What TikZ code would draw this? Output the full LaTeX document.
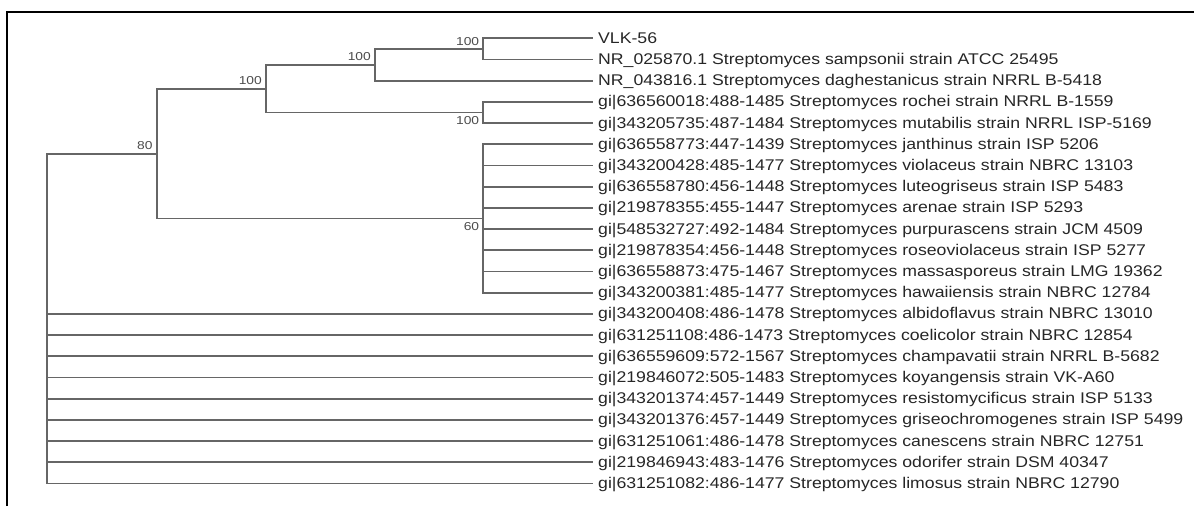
\documentclass[tikz,border=0pt]{standalone}
\usepackage{fontspec}
\newfontfamily\leaffont[FakeStretch=1.14]{Liberation Sans}
\newfontfamily\bootfont[FakeStretch=1.2]{Liberation Sans}
\usetikzlibrary{positioning}
\begin{document}
\begin{tikzpicture}[x=1pt, y=-1pt, font=\leaffont\fontsize{15.5}{16}\selectfont]
        \tikzset{leaf/.style={anchor=west, inner xsep=5pt, inner ysep=0pt, text height=10pt, text depth=0pt, text=black!85},
                 branch/.style={draw=black!60, line width=1.9pt},
                 boot/.style={font=\bootfont\fontsize{11.5}{12}\selectfont, text=black!70, inner xsep=4pt, inner ysep=3.5pt}}
        \useasboundingbox (0,0) rectangle (1194,506);
        \draw[line width=2.2pt] (7,506) -- (7,12) -- (1194,12);
        % leaves
        \node[leaf] (vlk) at (593,38.3) {VLK-56};
        \node[leaf] (sampsonii) at (593,59.5) {NR\_025870.1 Streptomyces sampsonii strain ATCC 25495};
        \node[leaf] (daghest) at (593,80.7) {NR\_043816.1 Streptomyces daghestanicus strain NRRL B-5418};
        \node[leaf] (rochei) at (593,101.9) {gi|636560018:488-1485 Streptomyces rochei strain NRRL B-1559};
        \node[leaf] (mutabilis) at (593,123.1) {gi|343205735:487-1484 Streptomyces mutabilis strain NRRL ISP-5169};
        \node[leaf] (janthinus) at (593,144.3) {gi|636558773:447-1439 Streptomyces janthinus strain ISP 5206};
        \node[leaf] (violaceus) at (593,165.5) {gi|343200428:485-1477 Streptomyces violaceus strain NBRC 13103};
        \node[leaf] (luteo) at (593,186.7) {gi|636558780:456-1448 Streptomyces luteogriseus strain ISP 5483};
        \node[leaf] (arenae) at (593,207.9) {gi|219878355:455-1447 Streptomyces arenae strain ISP 5293};
        \node[leaf] (purpur) at (593,229.1) {gi|548532727:492-1484 Streptomyces purpurascens strain JCM 4509};
        \node[leaf] (roseo) at (593,250.3) {gi|219878354:456-1448 Streptomyces roseoviolaceus strain ISP 5277};
        \node[leaf] (massa) at (593,271.5) {gi|636558873:475-1467 Streptomyces massasporeus strain LMG 19362};
        \node[leaf] (hawaii) at (593,292.7) {gi|343200381:485-1477 Streptomyces hawaiiensis strain NBRC 12784};
        \node[leaf] (albido) at (593,313.9) {gi|343200408:486-1478 Streptomyces albidoflavus strain NBRC 13010};
        \node[leaf] (coelic) at (593,335.1) {gi|631251108:486-1473 Streptomyces coelicolor strain NBRC 12854};
        \node[leaf] (champ) at (593,356.3) {gi|636559609:572-1567 Streptomyces champavatii strain NRRL B-5682};
        \node[leaf] (koyang) at (593,377.5) {gi|219846072:505-1483 Streptomyces koyangensis strain VK-A60};
        \node[leaf] (resist) at (593,398.7) {gi|343201374:457-1449 Streptomyces resistomycificus strain ISP 5133};
        \node[leaf] (griseo) at (593,419.9) {gi|343201376:457-1449 Streptomyces griseochromogenes strain ISP 5499};
        \node[leaf] (canesc) at (593,441.1) {gi|631251061:486-1478 Streptomyces canescens strain NBRC 12751};
        \node[leaf] (odorif) at (593,462.3) {gi|219846943:483-1476 Streptomyces odorifer strain DSM 40347};
        \node[leaf] (limosus) at (593,483.5) {gi|631251082:486-1477 Streptomyces limosus strain NBRC 12790};
        % inner nodes
        \coordinate (n100c) at (483.3,48.9);
        \coordinate (n100b) at (375,64.8);
        \coordinate (n100d) at (483.3,112.5);
        \coordinate (n100a) at (266,88.65);
        \coordinate (n60) at (483.3,218.5);
        \coordinate (n80) at (156.7,153.6);
        \coordinate (root) at (47.3,318.5);
        % branches
        \draw[branch] (n100c) |- (vlk.west);
        \draw[branch] (n100c) |- (sampsonii.west);
        \draw[branch] (n100b) |- (n100c);
        \draw[branch] (n100b) |- (daghest.west);
        \draw[branch] (n100d) |- (rochei.west);
        \draw[branch] (n100d) |- (mutabilis.west);
        \draw[branch] (n100a) |- (n100b);
        \draw[branch] (n100a) |- (n100d);
        \draw[branch] (n60) |- (janthinus.west);
        \draw[branch] (n60) |- (violaceus.west);
        \draw[branch] (n60) |- (luteo.west);
        \draw[branch] (n60) |- (arenae.west);
        \draw[branch] (n60) |- (purpur.west);
        \draw[branch] (n60) |- (roseo.west);
        \draw[branch] (n60) |- (massa.west);
        \draw[branch] (n60) |- (hawaii.west);
        \draw[branch] (n80) |- (n100a);
        \draw[branch] (n80) |- (n60);
        \draw[branch] (root) |- (n80);
        \draw[branch] (root) |- (albido.west);
        \draw[branch] (root) |- (coelic.west);
        \draw[branch] (root) |- (champ.west);
        \draw[branch] (root) |- (koyang.west);
        \draw[branch] (root) |- (resist.west);
        \draw[branch] (root) |- (griseo.west);
        \draw[branch] (root) |- (canesc.west);
        \draw[branch] (root) |- (odorif.west);
        \draw[branch] (root) |- (limosus.west);
        % bootstrap values
        \node[boot, above left=0pt of n100c] (b100c) {100};
        \node[boot, above left=0pt of n100b] (b100b) {100};
        \node[boot, above left=0pt of n100a] (b100a) {100};
        \node[boot, below left=0pt of n100d] (b100d) {100};
        \node[boot, below left=0pt of n60] (b60) {60};
        \node[boot, above left=0pt of n80] (b80) {80};
    \end{tikzpicture}
\end{document}
